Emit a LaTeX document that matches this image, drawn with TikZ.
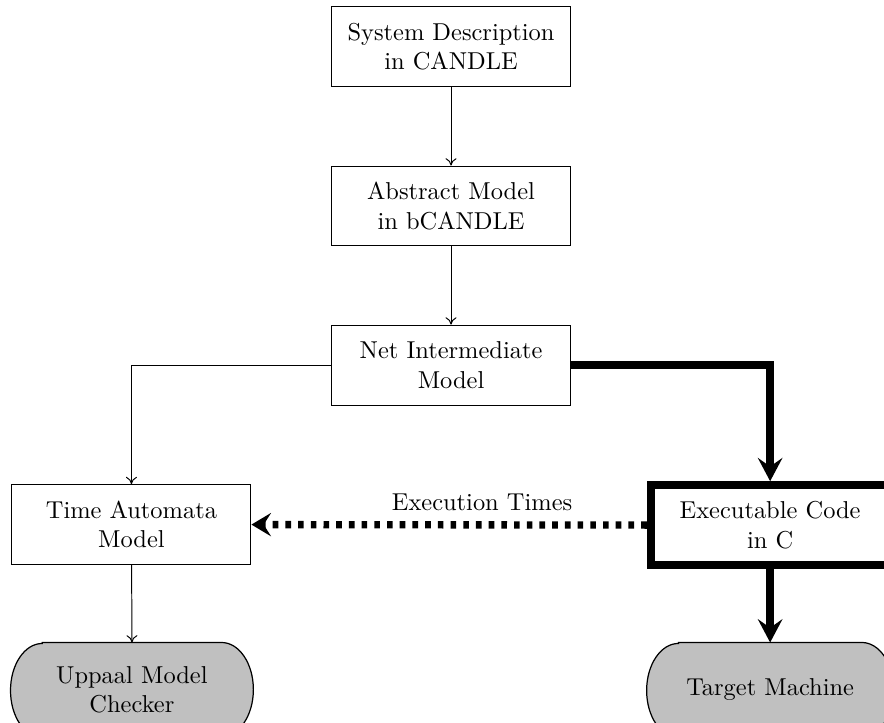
\documentclass[tikz,border=0pt]{standalone}
\usetikzlibrary{arrows.meta,backgrounds,calc}
\definecolor{termgray}{RGB}{192,192,192}
\tikzset{
  procbox/.style={draw, line width=0.4pt, minimum width=97.8pt, minimum height=32.7pt, align=center, inner sep=2pt},
  thickbox/.style={procbox, line width=3.2pt},
  termnode/.style={minimum height=38.5pt, align=center, inner sep=2pt},
  termoutline/.style={draw, line width=0.5pt, fill=termgray},
  thinarrow/.style={-{To[length=3pt,width=4.5pt]}, line width=0.4pt},
  bigarrow/.style={-{Stealth[length=9.5pt,width=10pt,inset=3.5pt]}, line width=3.2pt},
  dotarrow/.style={-{Stealth[length=8pt,width=9.5pt,inset=3pt]}, line width=3pt, dash pattern=on 2.3pt off 2.9pt}
}
\newcommand{\termshape}[1]{%
  \draw[termoutline] ($(#1.north west)+(13pt,0)$) -- ($(#1.north east)+(-13pt,0)$)
    arc[start angle=90, end angle=-90, x radius=13pt, y radius=19.25pt]
    -- ($(#1.south west)+(13pt,0)$)
    arc[start angle=270, end angle=90, x radius=13pt, y radius=19.25pt] -- cycle;}
\begin{document}
\begin{tikzpicture}
\useasboundingbox (0pt,0pt) rectangle (361.8pt,-295.5pt);
\node[procbox] (sys) at (184.6pt,-19.0pt) {System Description\\in CANDLE};
\node[procbox] (abs) at (184.6pt,-84.3pt) {Abstract Model\\in bCANDLE};
\node[procbox] (net) at (184.6pt,-149.4pt) {Net Intermediate\\Model};
\node[procbox] (ta) at (53.8pt,-214.7pt) {Time Automata\\Model};
\node[thickbox] (ec) at (315.2pt,-214.9pt) {Executable Code\\in C};
\node[termnode, minimum width=99pt] (up) at (54.0pt,-282.4pt) {Uppaal Model\\Checker};
\node[termnode, minimum width=100.7pt] (tm) at (315.2pt,-282.4pt) {Target Machine};
\begin{pgfonlayer}{background}
\termshape{up}
\termshape{tm}
\end{pgfonlayer}
\draw[thinarrow] (sys) -- (abs);
\draw[thinarrow] (abs) -- (net);
\draw[thinarrow] (net.west) -| (ta.north);
\draw[thinarrow] (ta) -- (up.north);
\draw[bigarrow] (net.east) -| (ec.north);
\draw[bigarrow] (ec) -- (tm.north);
\draw[dotarrow] (ec.west) -- (ta.east);
\node (lbl) at (197.3pt,-205.5pt) {Execution Times};
\end{tikzpicture}
\end{document}
